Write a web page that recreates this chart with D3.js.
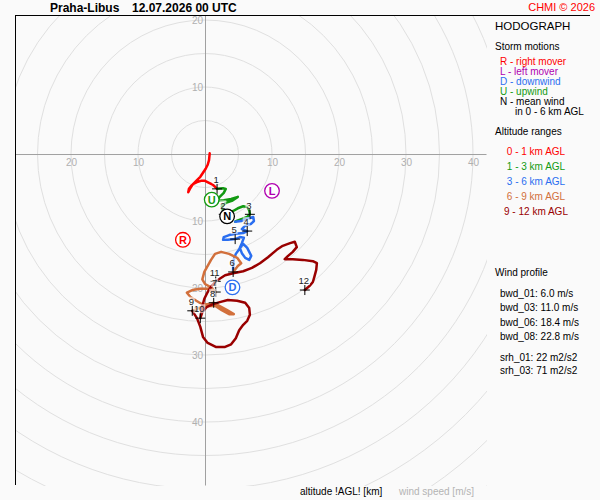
<!DOCTYPE html>
<html><head><meta charset="utf-8">
<script src="https://cdn.jsdelivr.net/npm/d3@7"></script>
<style>
html,body{margin:0;padding:0;background:#fafafa;}
svg{display:block;font-family:"Liberation Sans",Arial,sans-serif;}
</style>
</head><body>
<svg id="chart" width="600" height="500"></svg>
<script>
// ---------------- DATA ----------------
const stationName = "Praha-Libus";
const runTime = "12.07.2026 00 UTC";
const copyright = "CHMI © 2026";
const ringSpeeds = [5,10,15,20,25,30,35,40,45,50,55,60,65,70];
const xTickValues = [-20,-10,10,20,30,40];
const yTickValues = [20,10,-10,-20,-30,-40];

// hodograph segments (u, v in m/s)
const layer01U = [0.7,0.6,0.4,0.1,-0.3,-0.7,-1.2,-1.6,-2.1,-2.4,-2.5,-2.2,-1.8,-1.2,-0.6,0.0,0.6,1.2,1.8];
const layer01V = [0.1,-0.9,-1.6,-2.2,-2.8,-3.4,-3.9,-4.3,-4.8,-5.2,-5.7,-5.1,-4.5,-4.2,-4.0,-4.0,-4.3,-4.6,-5.2];
const layer13U = [1.8,2.7,3.1,2.8,2.2,1.8,2.8,3.9,4.9,4.0,3.1,2.5,2.8,3.6,4.2,4.9,5.7,6.3,6.6,6.7,6.3,5.5,4.9,4.5];
const layer13V = [-5.2,-5.1,-5.2,-5.8,-6.4,-7.0,-6.9,-6.7,-6.4,-7.0,-7.3,-7.8,-8.8,-8.8,-8.5,-8.1,-7.8,-7.9,-8.4,-9.0,-9.4,-9.7,-9.9,-10.1];
const layer36U = [4.5,5.4,6.4,7.2,7.3,6.9,6.0,5.5,6.3,5.7,4.6,3.6,2.8,2.7,3.4,4.5,5.2,5.8,5.5,5.2,5.5,6.0,6.6,6.9,6.3,5.7,5.1,4.6,4.3,4.2,4.2];
const layer36V = [-10.1,-10.0,-9.6,-9.4,-10.0,-10.4,-10.7,-11.2,-11.5,-11.8,-11.9,-12.1,-12.4,-12.8,-12.8,-12.7,-12.4,-12.5,-13.3,-14.0,-14.8,-15.5,-15.8,-15.2,-14.0,-13.4,-14.2,-14.9,-15.7,-16.6,-17.6];
const layer69U = [4.2,4.9,5.4,4.8,3.6,2.4,1.5,0.9,0.4,-0.1,-0.4,0.0,0.9,1.6,0.6,-0.7,-1.9,-2.7,-2.2,-1.3,-0.3,0.6,1.3,2.2,3.3,4.3,3.6,2.5,1.6,0.6,-0.4,-1.2,-1.9];
const layer69V = [-17.6,-16.7,-16.3,-15.5,-14.9,-14.6,-14.9,-15.8,-16.7,-17.6,-18.7,-19.4,-19.9,-20.6,-20.1,-20.1,-20.3,-20.7,-21.3,-21.9,-22.5,-22.4,-22.2,-22.7,-23.3,-23.9,-23.9,-23.3,-22.7,-22.7,-22.8,-23.1,-23.4];
const layer912U = [-1.9,-1.2,-0.7,-0.3,0.4,1.6,3.0,3.9,4.6,5.1,5.7,6.3,6.7,6.6,6.0,4.8,3.4,2.2,1.2,0.3,-0.4,-0.7,-0.4,-0.1,0.4,1.0,1.6,1.9,3.0,4.2,5.7,7.0,8.2,9.4,10.7,11.6,12.7,13.4,13.7,13.1,12.4,11.9,13.1,14.6,16.1,16.7,16.6,16.3,16.1,15.7,14.9];
const layer912V = [-23.4,-24.5,-25.8,-27.3,-28.2,-28.8,-28.8,-28.4,-27.5,-26.3,-25.5,-24.9,-24.0,-23.0,-22.2,-21.9,-21.8,-22.1,-22.4,-22.8,-23.6,-24.5,-22.7,-21.6,-20.6,-19.7,-19.0,-18.8,-18.1,-17.8,-17.5,-17.0,-16.3,-15.4,-14.3,-13.7,-13.3,-13.1,-13.9,-14.6,-15.2,-15.7,-15.7,-15.8,-16.0,-16.3,-17.3,-18.4,-19.1,-19.6,-20.3];
const layerNames = ["0 - 1 km AGL","1 - 3 km AGL","3 - 6 km AGL","6 - 9 km AGL","9 - 12 km AGL"];

// altitude marks (km)
const kmMarks = [1,2,3,4,5,6,7,8,9,10,11,12];
const kmU = [1.8,2.8,6.7,6.3,4.5,4.2,1.6,1.3,-1.9,-0.7,1.6,14.9];
const kmV = [-5.2,-9.0,-9.0,-11.5,-12.7,-17.6,-20.6,-22.2,-23.4,-24.5,-19.0,-20.3];

// storm motions
const stormKeys = ["R","L","D","U","N"];
const stormU = [-3.3,10.0,4.1,1.0,3.3];
const stormV = [-12.8,-5.5,-19.9,-6.8,-9.3];
const stormLegend = ["R - right mover","L - left mover","D - downwind","U - upwind","N - mean wind"];
const stormLegendExtra = "in 0 - 6 km AGL";

const windProfile = ["bwd_01: 6.0 m/s","bwd_03: 11.0 m/s","bwd_06: 18.4 m/s","bwd_08: 22.8 m/s"];
const helicity = ["srh_01: 22 m2/s2","srh_03: 71 m2/s2"];

// ---------------- STYLE ----------------
const layerColors = ["#ff0000","#129a12","#2a6ef0","#d2703c","#990000"];
const stormColors = ["#ff0000","#b000b0","#2a6ef0","#129a12","#000000"];

const svg = d3.select("#chart");
const FONT = '"Liberation Sans",Arial,sans-serif';

const x = d3.scaleLinear().domain([-28.36, 41.94]).range([15, 486]);
const y = d3.scaleLinear().domain([20.75, -49.4]).range([15, 485]);

svg.append("defs").append("clipPath").attr("id","plotclip")
  .append("rect").attr("x",15).attr("y",15).attr("width",472).attr("height",471);

// rings
svg.append("g").attr("clip-path","url(#plotclip)")
  .selectAll("circle").data(ringSpeeds).join("circle")
  .attr("cx", x(0)).attr("cy", y(0))
  .attr("r", d => x(d) - x(0))
  .attr("fill","none").attr("stroke","#e0e0e0").attr("stroke-width",1);

// axes
const gx = svg.append("g").attr("transform",`translate(0,${y(0)})`)
  .call(d3.axisBottom(x).tickValues(xTickValues).tickSize(0).tickSizeOuter(0).tickPadding(5).tickFormat(d=>Math.abs(d)));
const gy = svg.append("g").attr("transform",`translate(${x(0)},0)`)
  .call(d3.axisLeft(y).tickValues(yTickValues).tickSize(0).tickSizeOuter(0).tickPadding(2).tickFormat(d=>Math.abs(d)));
[gx,gy].forEach(g=>{
  g.attr("font-family",FONT).attr("font-size",10);
  g.select(".domain").attr("stroke","#a0a0a0");
  g.selectAll("text").attr("fill","#b0b0b0");
});

// frame
svg.append("line").attr("x1",15).attr("y1",15.5).attr("x2",590).attr("y2",15.5).attr("stroke","#000");
svg.append("line").attr("x1",15.5).attr("y1",15).attr("x2",15.5).attr("y2",485).attr("stroke","#000");

// hodograph
const layers = [
  d3.zip(layer01U, layer01V),
  d3.zip(layer13U, layer13V),
  d3.zip(layer36U, layer36V),
  d3.zip(layer69U, layer69V),
  d3.zip(layer912U, layer912V)
];
const line = d3.line().x(d=>x(d[0])).y(d=>y(d[1]));
svg.append("g").selectAll("path").data(layers).join("path")
  .attr("d", line).attr("fill","none")
  .attr("stroke",(d,i)=>layerColors[i])
  .attr("stroke-width",2.5).attr("stroke-linejoin","round").attr("stroke-linecap","round");

// km crosses
const marks = kmMarks.map((k,i)=>({k, u:kmU[i], v:kmV[i]}));
const gm = svg.append("g");
gm.selectAll("path.cross").data(marks).join("path").attr("class","cross")
  .attr("d", d=>{const cx=x(d.u), cy=y(d.v); return `M${cx-5},${cy}H${cx+5}M${cx},${cy-5}V${cy+5}`;})
  .attr("stroke","#000").attr("stroke-width",1).attr("fill","none");
const gl = svg.append("g").attr("font-family",FONT).attr("font-size",9.5);
const lab = gl.selectAll("g").data(marks).join("g")
  .attr("transform", d=>`translate(${x(d.u)-1},${y(d.v)-9})`);
lab.append("rect").attr("x",d=>d.k>=10?-6:-3.5).attr("y",-5).attr("width",d=>d.k>=10?12:7).attr("height",9)
  .attr("fill","#ffffff").attr("fill-opacity",0.6);
lab.append("text").attr("text-anchor","middle").attr("dy","0.35em").attr("fill","#222").text(d=>d.k);

// storm motion symbols
const storms = stormKeys.map((k,i)=>({k,u:stormU[i],v:stormV[i],c:stormColors[i]}));
const gs = svg.append("g").selectAll("g").data(storms).join("g")
  .attr("transform", d=>`translate(${x(d.u)},${y(d.v)})`);
gs.append("circle").attr("r",7.3).attr("fill","#fff").attr("stroke",d=>d.c).attr("stroke-width",1.3);
gs.append("text").attr("text-anchor","middle").attr("dy","0.36em")
  .attr("font-family",FONT).attr("font-size",11).attr("font-weight","bold")
  .attr("fill",d=>d.c).text(d=>d.k);

// title
svg.append("text").attr("x",50).attr("y",12).attr("font-family",FONT).attr("font-size",12)
  .attr("font-weight","bold").attr("fill","#000").text(stationName);
svg.append("text").attr("x",132).attr("y",12).attr("font-family",FONT).attr("font-size",12)
  .attr("font-weight","bold").attr("fill","#000").text(runTime);
svg.append("text").attr("x",595).attr("y",11).attr("text-anchor","end").attr("font-family",FONT)
  .attr("font-size",11).attr("fill","#ff0000").text(copyright);

// right panel
const panel = svg.append("g").attr("font-family",FONT).attr("font-size",10);
panel.append("text").attr("x",495).attr("y",30).attr("font-size",11.5).attr("fill","#000").text("HODOGRAPH");
panel.append("text").attr("x",495).attr("y",50).attr("fill","#000").text("Storm motions");
panel.selectAll("text.sm").data(stormLegend).join("text").attr("class","sm")
  .attr("x",500).attr("y",(d,i)=>65+i*10).attr("fill",(d,i)=>stormColors[i]).text(d=>d);
panel.append("text").attr("x",515).attr("y",115).attr("fill","#000").text(stormLegendExtra);
panel.append("text").attr("x",495).attr("y",135).attr("fill","#000").text("Altitude ranges");
panel.selectAll("text.ar").data(layerNames).join("text").attr("class","ar")
  .attr("x",536).attr("text-anchor","middle").attr("y",(d,i)=>155+i*15)
  .attr("fill",(d,i)=>layerColors[i]).text(d=>d);
panel.append("text").attr("x",495).attr("y",276).attr("fill","#000").text("Wind profile");
panel.selectAll("text.wp").data(windProfile).join("text").attr("class","wp")
  .attr("x",500).attr("y",(d,i)=>297+i*14.4).attr("fill","#000").text(d=>d);
panel.selectAll("text.sh").data(helicity).join("text").attr("class","sh")
  .attr("x",500).attr("y",(d,i)=>361+i*13).attr("fill","#000").text(d=>d);

// bottom labels
svg.append("text").attr("x",300).attr("y",495).attr("font-family",FONT).attr("font-size",10)
  .attr("fill","#000").text("altitude !AGL! [km]");
svg.append("text").attr("x",399).attr("y",495).attr("font-family",FONT).attr("font-size",10)
  .attr("fill","#b4b4b4").text("wind speed [m/s]");
</script>
</body></html>
